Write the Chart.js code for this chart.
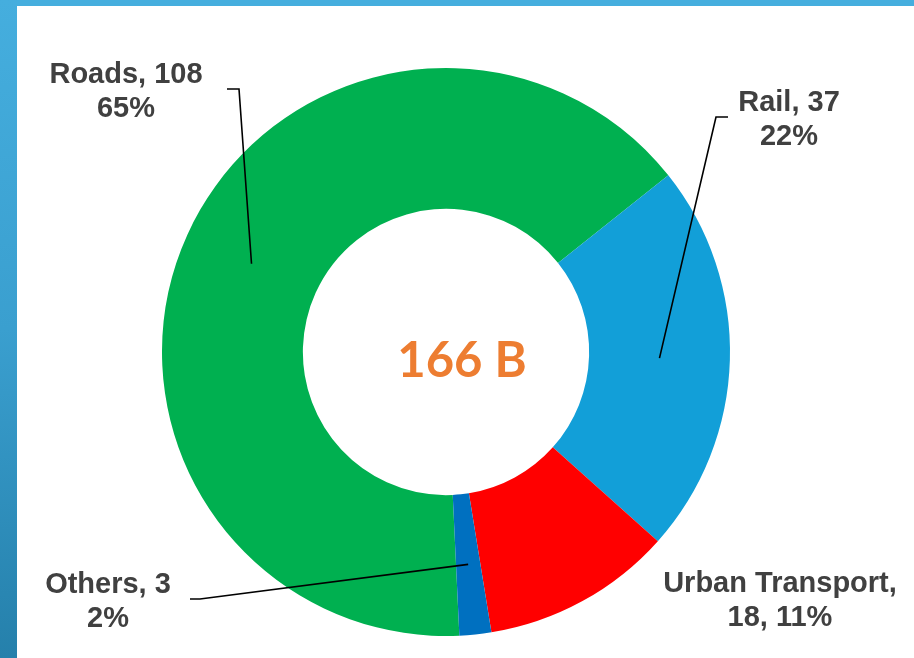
<!DOCTYPE html>
<html>
<head>
<meta charset="utf-8">
<script src="https://cdn.jsdelivr.net/npm/chart.js@4.4.1/dist/chart.umd.min.js"></script>
<style>
  html, body { margin: 0; padding: 0; background: #fff; }
  #wrap { position: relative; width: 914px; height: 658px; overflow: hidden; }
  #topbar { position: absolute; left: 0; top: 0; width: 914px; height: 6px; background: #45aede; }
  #leftbar { position: absolute; left: 0; top: 0; width: 17px; height: 658px;
             background: linear-gradient(to bottom, #45aede, #3a9fcf 50%, #2580ab); }
  #budgetChart { position: absolute; left: 0; top: 0; }
</style>
</head>
<body>
<div id="wrap">
  <div id="topbar"></div>
  <div id="leftbar"></div>
  <canvas id="budgetChart" width="914" height="658"></canvas>
</div>
<script>
  // Data (billions)
  var categories = ['Roads', 'Rail', 'Urban Transport', 'Others'];
  var amounts = [108, 37, 18, 3];
  var sliceColors = ['#00b050', '#129fd8', '#ff0000', '#0070c0'];
  var unit = 'B';

  var total = amounts.reduce(function (a, b) { return a + b; }, 0);

  // where each label sits and where its leader line bends (null = no leader)
  var labelSpots = [
    { x: 126, y: 83, wrap: false, elbow: [[227, 89], [239, 89]] },
    { x: 789, y: 111, wrap: false, elbow: [[728, 117], [716, 117]] },
    { x: 780, y: 592, wrap: true, elbow: null },
    { x: 108, y: 593, wrap: false, elbow: [[190, 599], [200, 599]] }
  ];

  var labelPlugin = {
    id: 'labelPlugin',
    afterDatasetsDraw: function (chart) {
      var ctx = chart.ctx;
      var arcs = chart.getDatasetMeta(0).data;
      ctx.save();

      // leader lines
      ctx.strokeStyle = '#000';
      ctx.lineWidth = 1.6;
      arcs.forEach(function (arc, i) {
        var spot = labelSpots[i];
        if (!spot.elbow) return;
        var p = arc.getProps(['x', 'y', 'startAngle', 'endAngle', 'innerRadius', 'outerRadius'], true);
        var mid = (p.startAngle + p.endAngle) / 2;
        var r = (p.innerRadius + p.outerRadius) / 2;
        ctx.beginPath();
        ctx.moveTo(spot.elbow[0][0], spot.elbow[0][1]);
        ctx.lineTo(spot.elbow[1][0], spot.elbow[1][1]);
        ctx.lineTo(p.x + Math.cos(mid) * r, p.y + Math.sin(mid) * r);
        ctx.stroke();
      });

      // data labels
      ctx.fillStyle = '#404040';
      ctx.font = 'bold 29px "Liberation Sans", Arial, sans-serif';
      ctx.textAlign = 'center';
      ctx.textBaseline = 'alphabetic';
      categories.forEach(function (cat, i) {
        var spot = labelSpots[i];
        var pct = Math.round(amounts[i] / total * 100) + '%';
        var lines = spot.wrap
          ? [cat + ',', amounts[i] + ', ' + pct]
          : [cat + ', ' + amounts[i], pct];
        ctx.fillText(lines[0], spot.x, spot.y);
        ctx.fillText(lines[1], spot.x, spot.y + 34);
      });

      // total in the hole (sits a little right of centre in the original)
      var c = arcs[0];
      ctx.fillStyle = '#ed7d31';
      ctx.font = 'bold 49px Lato, "Open Sans", sans-serif';
      ctx.fillText(total + ' ' + unit, c.x + 16, c.y + 25);
      ctx.restore();
    }
  };

  var ctx = document.getElementById('budgetChart').getContext('2d');
  var budgetChart = new Chart(ctx, {
    type: 'doughnut',
    data: {
      labels: categories,
      datasets: [{
        data: amounts,
        backgroundColor: sliceColors,
        borderWidth: 0
      }]
    },
    options: {
      responsive: false,
      animation: false,
      rotation: 177.3,
      cutout: '50.4%',
      layout: { padding: { left: 162, right: 184, top: 68, bottom: 22 } },
      plugins: {
        legend: { display: false },
        tooltip: { enabled: false }
      }
    },
    plugins: [labelPlugin]
  });
</script>
</body>
</html>
